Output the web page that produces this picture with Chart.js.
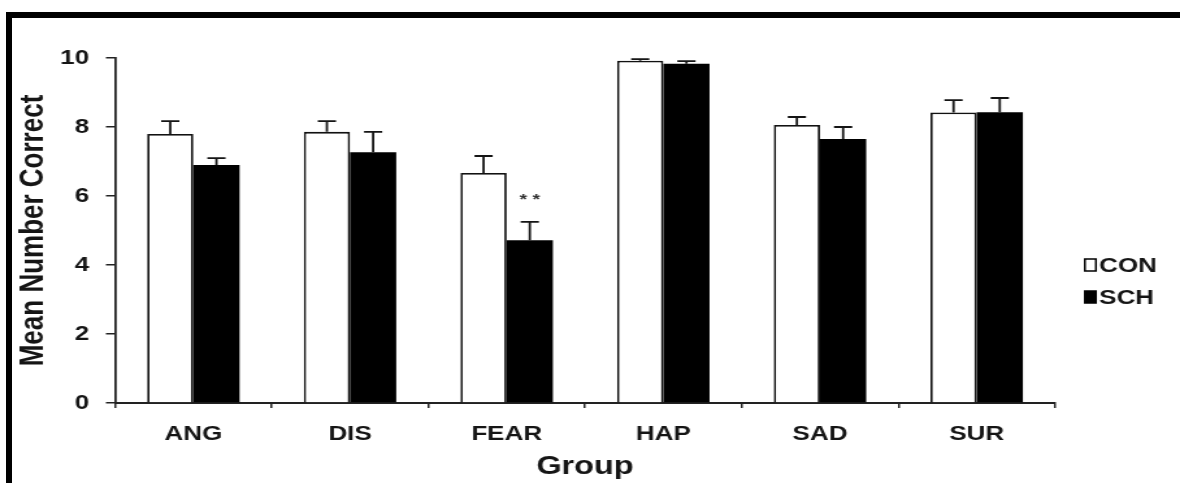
<!DOCTYPE html>
<html>
<head>
<meta charset="utf-8">
<script src="https://cdn.jsdelivr.net/npm/chart.js@4.4.1/dist/chart.umd.min.js"></script>
<style>
    html, body { margin: 0; padding: 0; background: #fff; }
    body { width: 1180px; height: 483px; overflow: hidden; position: relative; }
    /* the original figure is stretched sideways, so draw narrow and widen */
    #stretch { position: absolute; left: 0; top: 0; width: 908px; height: 483px;
               transform-origin: 0 0; transform: scaleX(1.29956); }
    #frame { position: absolute; left: 6px; top: 12px; right: 0; bottom: 0;
             border-top: 6px solid #000; border-left: 6px solid #000; pointer-events: none; }
</style>
</head>
<body>
<div id="stretch"><canvas id="chart" width="908" height="483"></canvas></div>
<div id="frame"></div>
<script>
    'use strict';

    const groups = ['ANG', 'DIS', 'FEAR', 'HAP', 'SAD', 'SUR'];
    const conMeans = [7.80, 7.86, 6.67, 9.92, 8.06, 8.42];
    const schMeans = [6.90, 7.27, 4.72, 9.83, 7.65, 8.43];
    const conErr = [0.37, 0.31, 0.49, 0.05, 0.23, 0.36];
    const schErr = [0.20, 0.59, 0.53, 0.08, 0.35, 0.41];
    const sigMarks = ['', '', '* *', '', '', ''];
    const yTicks = [0, 2, 4, 6, 8, 10];

    const FONT = '"Liberation Sans", Arial, sans-serif';
    const INK = '#151515';

    const errorBars = {
        id: 'errorBars',
        afterDatasetsDraw(chart) {
            const { ctx, scales: { y } } = chart;
            const errs = [conErr, schErr];
            ctx.save();
            ctx.strokeStyle = INK;
            ctx.lineWidth = 1.8;
            chart.data.datasets.forEach((ds, i) => {
                chart.getDatasetMeta(i).data.forEach((bar, j) => {
                    const top = y.getPixelForValue(ds.data[j] + errs[i][j]);
                    ctx.beginPath();
                    ctx.moveTo(bar.x, bar.y);
                    ctx.lineTo(bar.x, top);
                    ctx.moveTo(bar.x - 7, top);
                    ctx.lineTo(bar.x + 7, top);
                    ctx.stroke();
                });
            });

            // significance stars above the SCH bars
            ctx.fillStyle = '#333';
            ctx.font = 'bold 15px ' + FONT;
            ctx.textAlign = 'center';
            ctx.textBaseline = 'middle';
            chart.getDatasetMeta(1).data.forEach((bar, j) => {
                if (!sigMarks[j]) return;
                const top = y.getPixelForValue(schMeans[j] + schErr[j]);
                ctx.fillText(sigMarks[j], bar.x, top - 22);
            });
            ctx.restore();
        }
    };

    const sideLegend = {
        id: 'sideLegend',
        afterDraw(chart) {
            const { ctx, chartArea } = chart;
            const x = chartArea.right + 23;
            ctx.save();
            ctx.font = 'bold 20px ' + FONT;
            ctx.textBaseline = 'middle';
            chart.data.datasets.forEach((ds, i) => {
                const cy = chartArea.top + 207 + i * 32;
                ctx.fillStyle = ds.backgroundColor;
                ctx.fillRect(x, cy - 6, 8.5, 12);
                ctx.strokeStyle = '#000';
                ctx.lineWidth = 1.5;
                ctx.strokeRect(x, cy - 6, 8.5, 12);
                ctx.fillStyle = INK;
                ctx.fillText(ds.label, x + 11, cy + 1);
            });
            ctx.restore();
        }
    };

    new Chart(document.getElementById('chart'), {
        type: 'bar',
        data: {
            labels: groups,
            datasets: [
                {
                    label: 'CON',
                    data: conMeans,
                    backgroundColor: '#ffffff',
                    borderColor: '#111',
                    borderWidth: 1.8
                },
                {
                    label: 'SCH',
                    data: schMeans,
                    backgroundColor: '#000000',
                    borderColor: '#000',
                    borderWidth: 0
                }
            ]
        },
        options: {
            responsive: false,
            animation: false,
            events: [],
            categoryPercentage: 0.59,
            barPercentage: 1.0,
            layout: { padding: { left: 0, top: 58, right: 96.2, bottom: 0 } },
            plugins: {
                legend: { display: false },
                tooltip: { enabled: false }
            },
            scales: {
                y: {
                    min: 0,
                    max: 10,
                    afterBuildTicks: s => { s.ticks = yTicks.map(v => ({ value: v })); },
                    afterFit: s => { s.width = 88.5; },
                    border: { display: true, color: '#222', width: 1.8 },
                    grid: { display: true, drawOnChartArea: false, drawTicks: true,
                            tickLength: 7, color: '#222', lineWidth: 1.5 },
                    ticks: { color: INK, padding: 13, font: { family: FONT, size: 20, weight: 'bold' } },
                    title: {
                        display: true,
                        text: 'Mean Number Correct',
                        color: INK,
                        padding: { top: 10, bottom: 0 },
                        font: { family: FONT, size: 26, weight: 'bold' }
                    }
                },
                x: {
                    afterFit: s => { s.height = 80; },
                    border: { display: true, color: '#222', width: 2 },
                    grid: { display: true, offset: true, drawOnChartArea: false, drawTicks: true,
                            tickLength: 5, color: '#222', lineWidth: 1.5 },
                    ticks: { color: INK, padding: 14, font: { family: FONT, size: 20, weight: 'bold' } },
                    title: {
                        display: true,
                        text: 'Group',
                        color: INK,
                        padding: { top: 0, bottom: 1 },
                        font: { family: FONT, size: 25, weight: 'bold' }
                    }
                }
            }
        },
        plugins: [errorBars, sideLegend]
    });
</script>
</body>
</html>
